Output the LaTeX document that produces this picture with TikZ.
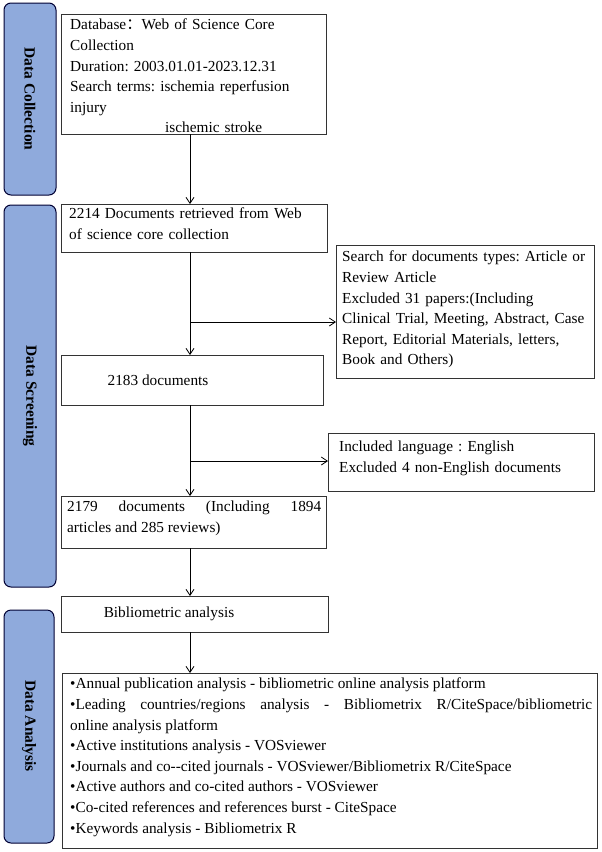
\documentclass[tikz,border=0pt]{standalone}
\usepackage{fontspec}
\setmainfont{Liberation Serif}
\newfontfamily\cjk{Noto Sans CJK SC}
\usetikzlibrary{arrows.meta}
\hyphenpenalty=10000
\exhyphenpenalty=10000
\frenchspacing
\begin{document}
\begin{tikzpicture}[x=1pt,y=-1pt,
  side/.style={draw=black!80!blue,line width=1pt,fill={rgb,255:red,143;green,170;blue,220},rounded corners=7pt},
  sidetext/.style={rotate=-90,font=\bfseries\fontsize{15.5}{18}\selectfont},
  box/.style={draw=black!80,line width=0.8pt,fill=white},
  txt/.style={anchor=north west,inner sep=0pt,align=left,font=\fontsize{15.3}{20.6}\selectfont},
  arr/.style={-{Straight Barb[length=6pt,width=8pt]},line width=0.8pt}]
\useasboundingbox (0,0) rectangle (602,852);
% side bars
\draw[side] (4,3) rectangle (56,195);
\node[sidetext] (sc) at (30,99) {Data Collection};
\draw[side] (4,205) rectangle (56,587);
\node[sidetext] (ss) at (30,396) {Data Screening};
\draw[side] (4,610) rectangle (54,843);
\node[sidetext] (sa) at (29,726) {Data Analysis};
% boxes
\draw[box] (61,14) rectangle (326,134);
\node[txt,text width=255] (t1) at (70,19) {Database{\cjk ：}Web of Science Core\\Collection\\Duration: 2003.01.01-2023.12.31\\Search terms: ischemia reperfusion injury\\\hspace*{95pt}ischemic stroke};
\coordinate (b1b) at (190,134);
\draw[box] (61,204) rectangle (327,252);
\node[txt,text width=256] (t2) at (69,208) {2214 Documents retrieved from Web\\of science core collection};
\coordinate (b2t) at (190,204);
\coordinate (b2b) at (190,252);
\draw[box] (336,245) rectangle (594,378);
\node[txt,text width=250] (r1) at (342,251) {Search for documents types: Article or\\Review Article\\Excluded 31 papers:(Including\\Clinical Trial, Meeting, Abstract, Case\\Report, Editorial Materials, letters,\\Book and Others)};
\coordinate (r1l) at (336,322);
\coordinate (j1) at (190,322);
\draw[box] (61,355) rectangle (323,405);
\node[font=\fontsize{15.3}{18}\selectfont] (t3) at (158,380) {2183 documents};
\coordinate (b3t) at (190,355);
\coordinate (b3b) at (190,405);
\draw[box] (328,433) rectangle (594,491);
\node[txt,text width=255] (r2) at (339,441) {Included language : English\\Excluded 4 non-English documents};
\coordinate (r2l) at (328,461);
\coordinate (j2) at (190,461);
\draw[box] (61,496) rectangle (326,548);
\node[txt,text width=254,align=justify] (t4) at (67,501) {2179 documents (Including 1894\linebreak articles and 285 reviews)};
\coordinate (b4t) at (190,496);
\coordinate (b4b) at (190,548);
\draw[box] (61,596) rectangle (328,632);
\node[font=\fontsize{15.3}{18}\selectfont] (t5) at (169,614) {Bibliometric analysis};
\coordinate (b5t) at (190,596);
\coordinate (b5b) at (190,632);
\draw[box] (62,673) rectangle (597,848);
\node[txt,text width=522,align=justify] (t6) at (70,678) {•Annual publication analysis - bibliometric online analysis platform\\
•Leading countries/regions analysis - Bibliometrix R/CiteSpace/bibliometric\linebreak online analysis platform\\
•Active institutions analysis - VOSviewer\\
•Journals and co-{}-cited journals - VOSviewer/Bibliometrix R/CiteSpace\\
•Active authors and co-cited authors - VOSviewer\\
•Co-cited references and references burst - CiteSpace\\
•Keywords analysis - Bibliometrix R};
\coordinate (b6t) at (190,673);
% arrows
\draw[arr] (b1b) -- (b2t);
\draw[arr] (b2b) -- (b3t);
\draw[arr] (j1) -- (r1l);
\draw[arr] (b3b) -- (b4t);
\draw[arr] (j2) -- (r2l);
\draw[arr] (b4b) -- (b5t);
\draw[arr] (b5b) -- (b6t);
\end{tikzpicture}
\end{document}
